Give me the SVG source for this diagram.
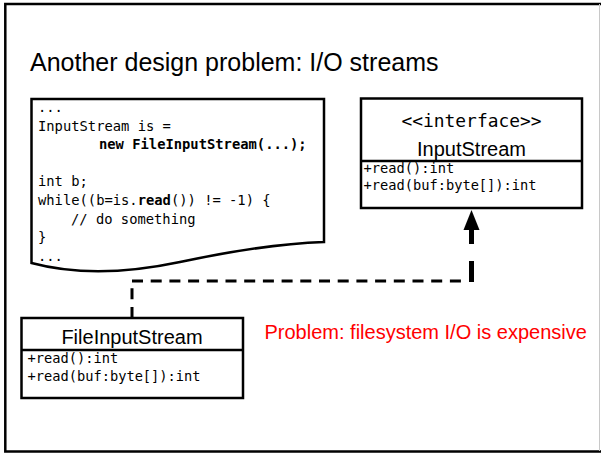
<svg xmlns="http://www.w3.org/2000/svg" width="601" height="453" viewBox="0 0 601 453">
<style>
.box{fill:#fff;stroke:#000;stroke-width:2.5}
.sep{stroke:#000;stroke-width:2.5}
.code{font-family:"DejaVu Sans Mono","Liberation Mono",monospace;font-size:13.8px;fill:#000}
.mono{font-family:"DejaVu Sans Mono","Liberation Mono",monospace;font-size:13.7px;fill:#000}
.sans{font-family:"Liberation Sans",Arial,sans-serif;fill:#000}
.dash{fill:none;stroke:#000;stroke-width:3;stroke-dasharray:11 7.7}
</style>
<rect x="0" y="0" width="601" height="453" fill="#fff"/>
<rect x="5.3" y="4" width="600" height="447.5" fill="none" stroke="#000" stroke-width="2.5"/>
<line x1="599.5" y1="4" x2="599.5" y2="451" stroke="#c8c8c8" stroke-width="1"/>
<text class="sans" x="30" y="71" font-size="25">Another design problem: I/O streams</text>

<g id="connectors">
<path class="dash" d="M132,318 V281"/>
<path class="dash" d="M132,281 H468"/>
<path d="M471.5,282 V229" fill="none" stroke="#000" stroke-width="5" stroke-dasharray="21 17"/>
<polygon points="471.5,210 463.5,230 479.5,230" fill="#000"/>
</g>

<g id="code">
<path class="box" d="M31.5,99 H324 V242 Q265,244 180,262 Q95,280 31.5,263 Z"/>
<text class="code" x="38" y="112">...</text>
<text class="code" x="38" y="130.6">InputStream is =</text>
<text class="code" x="99" y="149.2" font-weight="bold">new FileInputStream(...);</text>
<text class="code" x="38" y="186.4">int b;</text>
<text class="code" x="38" y="205">while((b=is.<tspan font-weight="bold">read</tspan>()) != -1) {</text>
<text class="code" x="71" y="223.6">// do something</text>
<text class="code" x="38" y="242.2">}</text>
<text class="code" x="38" y="260.8">...</text>
</g>

<g id="InputStream">
<rect class="box" x="361" y="98.5" width="221" height="109.5"/>
<line class="sep" x1="361" y1="161" x2="582" y2="161"/>
<text x="471.5" y="127.3" text-anchor="middle" font-family="DejaVu Sans Mono,Liberation Mono,monospace" font-size="17.9">&lt;&lt;interface&gt;&gt;</text>
<text class="sans" x="471.5" y="155.5" text-anchor="middle" font-size="20">InputStream</text>
<text class="mono" x="363.5" y="173.3">+read():int</text>
<text class="mono" x="363.5" y="190">+read(buf:byte[]):int</text>
</g>

<g id="FileInputStream">
<rect class="box" x="21.5" y="318" width="221.5" height="80"/>
<line class="sep" x1="21.5" y1="350" x2="243" y2="350"/>
<text class="sans" x="132" y="344" text-anchor="middle" font-size="20">FileInputStream</text>
<text class="mono" x="27.5" y="362.7">+read():int</text>
<text class="mono" x="27.5" y="381">+read(buf:byte[]):int</text>
</g>

<text id="problem" x="264.5" y="339.3" font-family="Liberation Sans,Arial,sans-serif" font-size="20" fill="#ff0000">Problem: filesystem I/O is expensive</text>
</svg>
